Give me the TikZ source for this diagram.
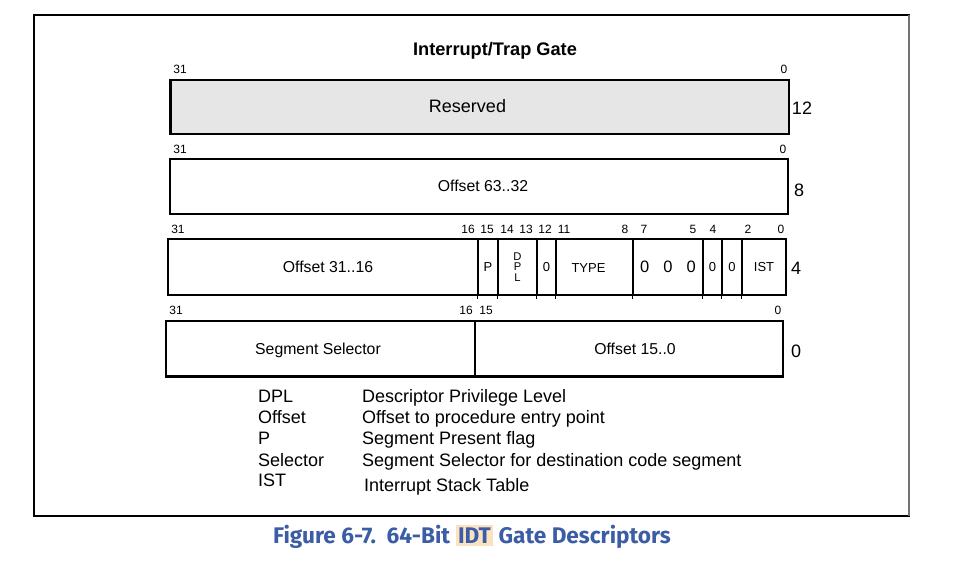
\documentclass[tikz,border=0pt]{standalone}
\usepackage{xcolor}
\usepackage{fontspec}
\setmainfont{Liberation Sans}
\newfontfamily\capfont{Fira Sans}
\usetikzlibrary{positioning}

\definecolor{resgray}{HTML}{E6E6E6}
\definecolor{capblue}{HTML}{3B5DA5}
\definecolor{idtmark}{HTML}{FDE2C2}

\begin{document}
\begin{tikzpicture}[
    x=1pt, y=-1pt,
    cell/.style={rectangle, draw, line width=1.1pt, inner sep=0pt, align=center, font=\fontsize{13}{15}\selectfont},
    celltext/.style={inner sep=0pt, anchor=base, font=\fontsize{15.8}{18}\selectfont},
    bit/.style={inner sep=0pt, font=\fontsize{12}{14}\selectfont},
    rowoff/.style={inner sep=0pt, font=\fontsize{18}{20}\selectfont},
    legend/.style={inner sep=0pt, anchor=base west, font=\fontsize{18}{20}\selectfont}
  ]
    \useasboundingbox[fill=white] (0,0) rectangle (956,569);
    \draw[line width=1.2pt] (34,15) rectangle (909,516);
    \draw[line width=1.6pt, black!55] (909,15) -- (909,516);

    \node[inner sep=0pt, anchor=base, font=\fontsize{18.2}{20}\selectfont\bfseries] (title) at (495,55.5) {Interrupt/Trap Gate};

    % Byte 12
    \node[cell, fill=resgray, minimum width=618, minimum height=54] (reserved) at (480,107) {};
    \node[celltext, font=\fontsize{18}{20}\selectfont] (restext) at (467.5,112.5) {Reserved};
    \draw[line width=2pt] (reserved.north west) -- (reserved.south west);
    \node[bit] (r12b31) at (180,69) {31};
    \node[bit] (r12b0) at (784,69) {0};
    \node[rowoff] (off12) at (802,108) {12};

    % Byte 8
    \node[cell, minimum width=618, minimum height=55] (offhigh) at (479,186.5) {};
    \node[celltext] (offhightext) at (483,191.7) {Offset 63..32};
    \node[bit] (r8b31) at (180,149) {31};
    \node[bit] (r8b0) at (783,149) {0};
    \node[rowoff] (off8) at (799,190) {8};

    % Byte 4
    \node[cell, minimum width=310, minimum height=56] (offmid) at (323,267) {};
    \node[celltext] (offmidtext) at (328,272.7) {Offset 31..16};
    \node[cell, minimum width=20, minimum height=56] (pflag) at (488,267) {P};
    \node[cell, minimum width=39, minimum height=56, font=\fontsize{11.2}{10.5}\selectfont] (dpl) at (517.5,267) {D\\P\\L};
    \node[cell, minimum width=19, minimum height=56] (zbit12) at (546.5,267) {0};
    \node[cell, minimum width=77, minimum height=56] (type) at (594.5,267) {};
    \node[inner sep=0pt, anchor=base, font=\fontsize{13}{15}\selectfont] (typetext) at (588.5,272.5) {TYPE};
    \node[cell, minimum width=70, minimum height=56, font=\fontsize{16.5}{18}\selectfont] (zeros) at (668,267) {0\hspace{0.85em}0\hspace{0.85em}0};
    \node[cell, minimum width=19, minimum height=56] (zbit4) at (712.5,267) {0};
    \node[cell, minimum width=20, minimum height=56] (zbit3) at (732,267) {0};
    \node[cell, minimum width=44, minimum height=56] (ist) at (764,267) {IST};
    \foreach \f in {pflag,dpl,zbit12,type,zeros,zbit4,zbit3,ist}
      \draw[line width=1.1pt] (\f.south west) -- ++(0,3);
    \foreach \x/\b in {178/31,468/16,487/15,507/14,526/13,545/12,564/11,625/8,644/7,693/5,713/4,748/2,781/0}
      \node[bit] (r4b\b) at (\x,229) {\b};
    \node[rowoff] (off4) at (796,268) {4};

    % Byte 0
    \node[cell, minimum width=309, minimum height=55] (selector) at (320.5,348.5) {};
    \node[celltext] (seltext) at (318,354.7) {Segment Selector};
    \node[cell, minimum width=308, minimum height=55] (offlow) at (629,348.5) {};
    \node[celltext] (offlowtext) at (635,354.7) {Offset 15..0};
    \draw[line width=2pt] (selector.south west) -- (offlow.south east);
    \foreach \x/\b in {176/31,466/16,486/15,778/0}
      \node[bit] (r0b\b) at (\x,310) {\b};
    \node[rowoff] (off0) at (796,351) {0};

    % Legend
    \node[legend] (kdpl) at (258,402.5) {DPL};
    \node[legend] (koff) at (258,423.5) {Offset};
    \node[legend] (kp) at (258,444.5) {P};
    \node[legend] (ksel) at (258,466.5) {Selector};
    \node[legend] (kist) at (258,486.5) {IST};
    \node[legend] (ddpl) at (362,402.5) {Descriptor Privilege Level};
    \node[legend] (doff) at (362,423.5) {Offset to procedure entry point};
    \node[legend] (dp) at (362,444.5) {Segment Present flag};
    \node[legend] (dsel) at (362,466.5) {Segment Selector for destination code segment};
    \node[legend] (dist) at (364,491.5) {Interrupt Stack Table};

    % Caption
    \node[inner sep=0pt, text=capblue, font=\capfont\fontsize{22.6}{26}\selectfont\bfseries] (caption) at (472,537)
      {Figure 6-7.\ \ 64-Bit {\setlength{\fboxsep}{2.5pt}\colorbox{idtmark}{IDT}} Gate Descriptors};
\end{tikzpicture}
\end{document}
